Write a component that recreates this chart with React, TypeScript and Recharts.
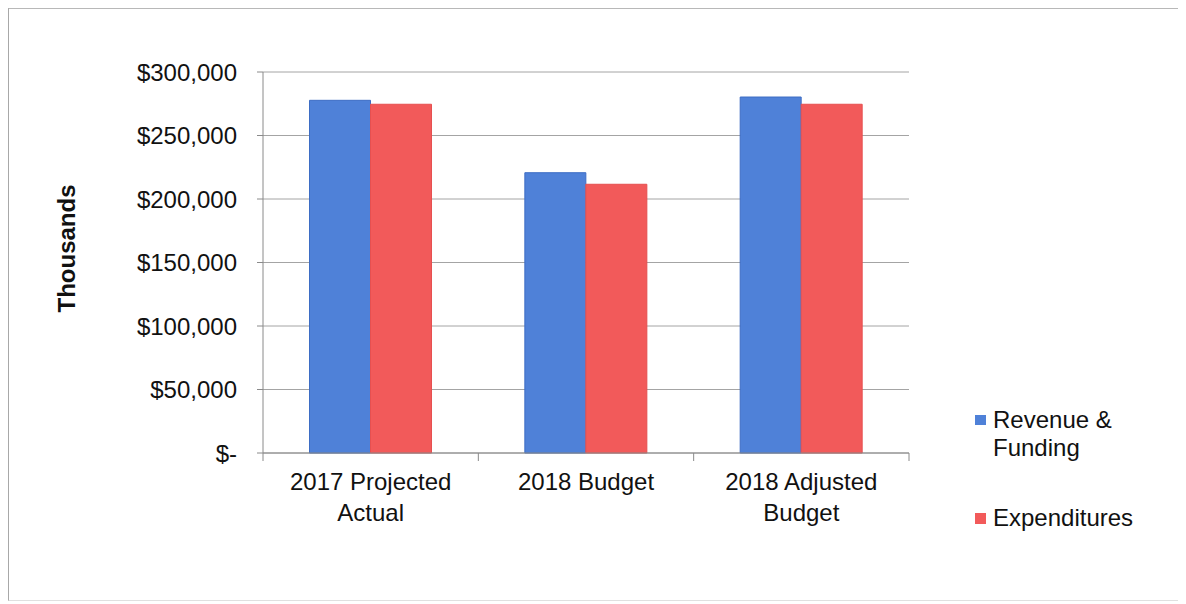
import React from "react";
import {
  Bar,
  BarChart,
  CartesianGrid,
  XAxis,
  YAxis,
} from "recharts";

const categories = ["2017 Projected\nActual", "2018 Budget", "2018 Adjusted\nBudget"];
const revenueFunding = [277700, 220700, 280300];
const expenditures = [274600, 211600, 274600];
const yTicks = [0, 50000, 100000, 150000, 200000, 250000, 300000];

const seriesNames = ["Revenue & Funding", "Expenditures"];
const BLUE = "#4f81d8";
const RED = "#f25a5a";
const FONT = '"Liberation Sans", Arial, sans-serif';

const chartData = categories.map((name, i) => ({
  name,
  revenue: revenueFunding[i],
  expenditures: expenditures[i],
}));

const WIDTH = 1170;
const HEIGHT = 588;
const PLOT_LEFT = 254;
const PLOT_RIGHT = 900;
const BAND = (PLOT_RIGHT - PLOT_LEFT) / categories.length;

function formatMoney(v: number) {
  if (v === 0) return "$-";
  return "$" + v.toLocaleString("en-US");
}

function CategoryTick(props: any) {
  const { x, y, payload, index } = props;
  const lines = String(payload.value).split("\n");
  const half = BAND / 2;
  return (
    <g>
      <line x1={x - half} y1={y - 8} x2={x - half} y2={y} stroke="#8a8a8a" />
      {index === categories.length - 1 && (
        <line x1={x + half} y1={y - 8} x2={x + half} y2={y} stroke="#8a8a8a" />
      )}
      {lines.map((l, i) => (
        <text
          key={i}
          x={x}
          y={y + 29 + i * 31}
          textAnchor="middle"
          fontFamily={FONT}
          fontSize={24}
          fill="#111"
        >
          {l}
        </text>
      ))}
    </g>
  );
}

function AxisTitle(props: any) {
  const vb = props.viewBox || {};
  const cx = 57;
  const cy = (vb.y ?? 63) + (vb.height ?? 381) / 2 - 14;
  return (
    <text
      x={cx}
      y={cy}
      transform={`rotate(-90 ${cx} ${cy})`}
      textAnchor="middle"
      dominantBaseline="central"
      fontFamily={FONT}
      fontSize={24}
      fontWeight="bold"
      fill="#111"
    >
      Thousands
    </text>
  );
}

function ChartLegend() {
  return (
    <div
      style={{
        position: "absolute",
        left: 966,
        top: 397,
        width: 200,
        fontFamily: FONT,
        fontSize: 24,
        color: "#111",
        lineHeight: "28px",
      }}
    >
      <div style={{ display: "flex", alignItems: "flex-start" }}>
        <span
          style={{ width: 11, height: 10, background: BLUE, marginTop: 9, marginRight: 7, flexShrink: 0 }}
        />
        <span style={{ width: 150 }}>{seriesNames[0]}</span>
      </div>
      <div style={{ display: "flex", alignItems: "flex-start", marginTop: 42 }}>
        <span
          style={{ width: 11, height: 11, background: RED, marginTop: 9, marginRight: 7, flexShrink: 0 }}
        />
        <span>{seriesNames[1]}</span>
      </div>
    </div>
  );
}

export default function App() {
  return (
    <div
      style={{
        position: "relative",
        width: 1178,
        height: 594,
        marginTop: -1,
        borderTop: "2px solid #b8b8b8",
        borderLeft: "1px solid #a8a8a8",
        borderBottom: "1px solid #e0e0e0",
        boxSizing: "border-box",
      }}
    >
      <div style={{ position: "absolute", left: 0, top: 0 }}>
        <BarChart
          width={WIDTH}
          height={HEIGHT}
          data={chartData}
          margin={{ top: 63, right: WIDTH - PLOT_RIGHT, bottom: 0, left: 0 }}
          barCategoryGap="21.6%"
          barGap={0}
        >
          <CartesianGrid vertical={false} stroke="#a4a4a4" />
          <XAxis
            dataKey="name"
            height={144}
            interval={0}
            axisLine={{ stroke: "#8a8a8a" }}
            tickLine={false}
            tick={<CategoryTick />}
          />
          <YAxis
            width={PLOT_LEFT}
            domain={[0, 300000]}
            ticks={yTicks}
            tickFormatter={formatMoney}
            axisLine={{ stroke: "#8a8a8a" }}
            tickLine={{ stroke: "#8a8a8a" }}
            tickSize={6}
            tickMargin={20}
            tick={{ fontFamily: FONT, fontSize: 24, fill: "#111" }}
            label={{ content: <AxisTitle /> }}
          />
          <Bar
            dataKey="revenue"
            name={seriesNames[0]}
            fill={BLUE}
            stroke="#3d6dc4"
            isAnimationActive={false}
          />
          <Bar
            dataKey="expenditures"
            name={seriesNames[1]}
            fill={RED}
            stroke="#e65050"
            isAnimationActive={false}
          />
        </BarChart>
      </div>
      <ChartLegend />
    </div>
  );
}
